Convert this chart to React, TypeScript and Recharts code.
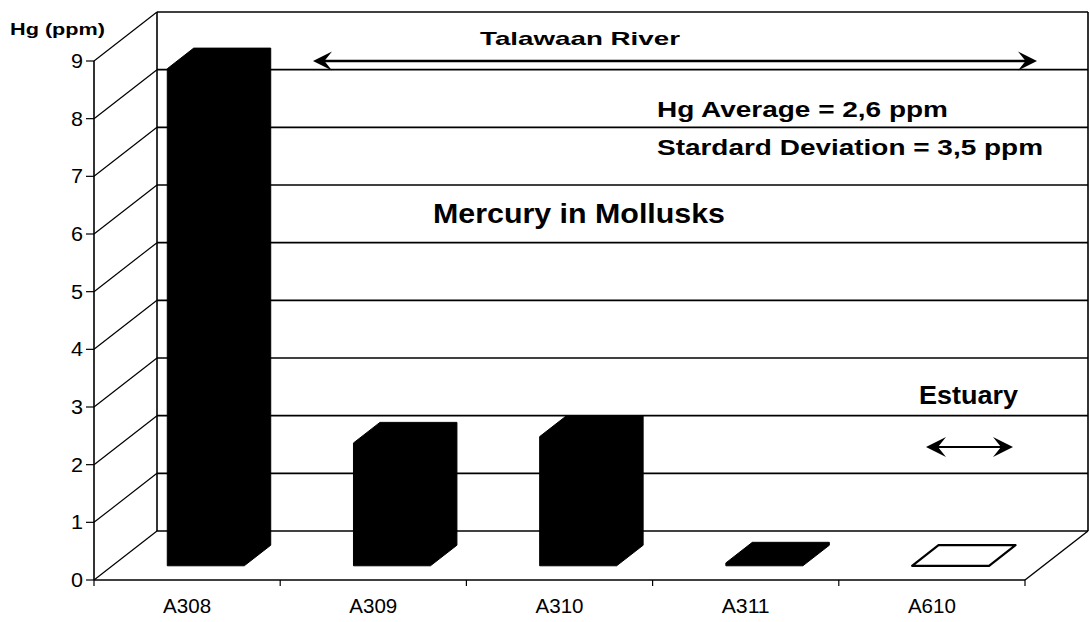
import React from 'react';
import { BarChart, Bar, XAxis, YAxis, CartesianGrid } from 'recharts';

const sites = ['A308', 'A309', 'A310', 'A311', 'A610'];
const mercuryPpm = [8.62, 2.13, 2.24, 0.05, 0];
const yTicks = [0, 1, 2, 3, 4, 5, 6, 7, 8, 9];

const data = sites.map((site, i) => ({ site, hg: mercuryPpm[i] }));

const FONT = '"Liberation Sans", Arial, Helvetica, sans-serif';
// depth of the 3D box (front plane -> back wall)
const DX = 63;
const DY = -49;
const FRONT = 0.29; // where bar front faces sit in the depth
const BACK = 0.71;

const Box3D = (props: any) => {
  const { x, y, width, height, value } = props;
  const l = x + DX * FRONT;
  const r = x + width + DX * FRONT;
  const t = y + DY * FRONT;
  const b = y + height + DY * FRONT;
  const bl = x + DX * BACK;
  const br = x + width + DX * BACK;
  const bt = y + DY * BACK;
  const bb = y + height + DY * BACK;
  const d = `M${l},${b} L${l},${t} L${bl},${bt} L${br},${bt} L${br},${bb} L${r},${b} Z`;
  const empty = !value;
  return (
    <path
      d={d}
      fill={empty ? '#fff' : '#000'}
      stroke="#000"
      strokeWidth={empty ? 2.2 : 1}
      strokeLinejoin="round"
    />
  );
};

// back wall, side wall and floor lines drawn from the grid positions
const wallLine = (p: any) => {
  const { x1, y1, x2, index } = p;
  const pts: number[] = p.horizontalPoints || [];
  const top = pts.length ? Math.min(...pts) : p.y;
  const bottom = pts.length ? Math.max(...pts) : p.y + p.height;
  const isTop = Math.abs(y1 - top) < 0.5;
  const isBottom = Math.abs(y1 - bottom) < 0.5;
  return (
    <g key={`wall-${index}`}>
      <line x1={x1} y1={y1} x2={x1 + DX} y2={y1 + DY} stroke="#000" strokeWidth={1.2} />
      <line x1={x1 + DX} y1={y1 + DY} x2={x2 + DX} y2={y1 + DY} stroke="#000" strokeWidth={1.6} />
      {isBottom && (
        <line x1={x2} y1={y1} x2={x2 + DX} y2={y1 + DY} stroke="#000" strokeWidth={1.4} />
      )}
      {isTop && (
        <>
          <line x1={x1 + DX} y1={top + DY} x2={x1 + DX} y2={bottom + DY} stroke="#000" strokeWidth={1.6} />
          <line x1={x2 + DX} y1={top + DY} x2={x2 + DX} y2={bottom + DY} stroke="#000" strokeWidth={1.6} />
        </>
      )}
    </g>
  );
};

const YTick = (props: any) => {
  const { x, y, payload } = props;
  return (
    <g>
      <line x1={x - 8} y1={y} x2={x} y2={y} stroke="#000" strokeWidth={1.2} />
      <text
        x={x - 11}
        y={y + 7}
        textAnchor="end"
        fontFamily={FONT}
        fontSize={20}
        textLength={12}
        lengthAdjust="spacingAndGlyphs"
        fill="#000"
      >
        {payload.value}
      </text>
    </g>
  );
};

const XTick = (props: any) => {
  const { x, y, payload, index, visibleTicksCount } = props;
  const half = payload.offset || 93.1;
  const last = index === (visibleTicksCount ?? sites.length) - 1;
  return (
    <g>
      <line x1={x - half} y1={y} x2={x - half} y2={y + 6} stroke="#000" strokeWidth={1.2} />
      {last && <line x1={x + half} y1={y} x2={x + half} y2={y + 6} stroke="#000" strokeWidth={1.2} />}
      <text
        x={x}
        y={y + 33}
        textAnchor="middle"
        fontFamily={FONT}
        fontSize={20}
        textLength={48}
        lengthAdjust="spacingAndGlyphs"
        fill="#000"
      >
        {payload.value}
      </text>
    </g>
  );
};

const Label = ({ x, y, w, size, children }: any) => (
  <text
    x={x}
    y={y}
    fontFamily={FONT}
    fontWeight="bold"
    fontSize={size}
    textLength={w}
    lengthAdjust="spacingAndGlyphs"
    fill="#000"
  >
    {children}
  </text>
);

const Arrow = ({ x1, x2, y, head, sw }: any) => {
  const h = head;
  return (
    <g fill="#000">
      <line x1={x1 + h * 0.5} y1={y} x2={x2 - h * 0.5} y2={y} stroke="#000" strokeWidth={sw} />
      <path d={`M${x1},${y} L${x1 + h},${y - h / 2} L${x1 + h * 0.6},${y} L${x1 + h},${y + h / 2} Z`} />
      <path d={`M${x2},${y} L${x2 - h},${y - h / 2} L${x2 - h * 0.6},${y} L${x2 - h},${y + h / 2} Z`} />
    </g>
  );
};

export default function App() {
  return (
    <div style={{ position: 'absolute', left: 0, top: 0, width: 1090, height: 622, background: '#fff' }}>
      <BarChart
        width={1090}
        height={622}
        data={data}
        margin={{ top: 61, right: 65, left: 34, bottom: 12 }}
        barSize={77}
      >
        <CartesianGrid vertical={false} horizontal={wallLine} />
        <XAxis
          dataKey="site"
          height={30}
          axisLine={{ stroke: '#000', strokeWidth: 1.6 }}
          tickLine={false}
          tickSize={0}
          tickMargin={0}
          interval={0}
          tick={<XTick />}
        />
        <YAxis
          width={60}
          domain={[0, 9]}
          ticks={yTicks}
          interval={0}
          axisLine={{ stroke: '#000', strokeWidth: 1.6 }}
          tickLine={false}
          tickSize={0}
          tickMargin={0}
          tick={<YTick />}
        />
        <Bar dataKey="hg" shape={<Box3D />} isAnimationActive={false} />
      </BarChart>
      <svg
        width={1090}
        height={622}
        style={{ position: 'absolute', left: 0, top: 0, pointerEvents: 'none' }}
      >
        <Label x={10} y={35} w={95} size={17}>Hg (ppm)</Label>
        <Label x={480} y={45} w={200} size={19}>Talawaan River</Label>
        <Arrow x1={313} x2={1037} y={61} head={19} sw={2.6} />
        <Label x={657} y={117} w={291} size={22}>Hg Average = 2,6 ppm</Label>
        <Label x={657} y={155} w={386} size={22}>Stardard Deviation = 3,5 ppm</Label>
        <Label x={433} y={223} w={292} size={28}>Mercury in Mollusks</Label>
        <Label x={919} y={404} w={99} size={25}>Estuary</Label>
        <Arrow x1={926} x2={1013} y={447} head={20} sw={2} />
      </svg>
    </div>
  );
}
